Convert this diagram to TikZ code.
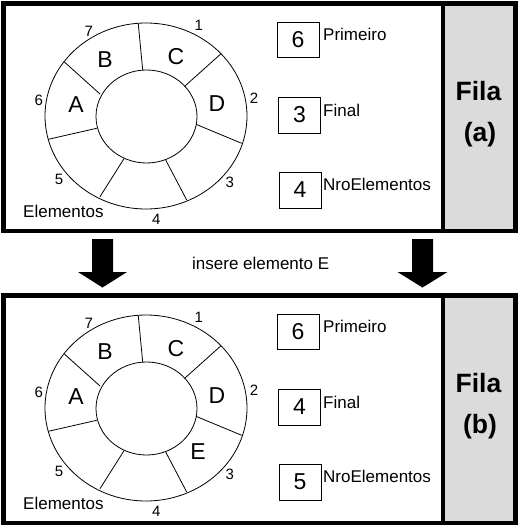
\documentclass[tikz,border=0pt]{standalone}
\usepackage{fontspec}
\setmainfont{Liberation Sans}
\begin{document}
\begin{tikzpicture}[x=1pt,y=-1pt,
  frame/.style={line width=4.5pt},
  ring/.style={line width=0.8pt},
  vbox/.style={draw, line width=0.9pt, minimum width=42pt, minimum height=36pt, inner sep=0pt, font=\fontsize{23}{23}\selectfont},
  lbl/.style={inner sep=0pt, anchor=base west, font=\fontsize{17}{17}\selectfont},
  idx/.style={inner sep=0pt, font=\fontsize{15}{15}\selectfont},
  cell/.style={inner sep=0pt, font=\fontsize{23}{23}\selectfont},
  title/.style={inner sep=0pt, anchor=base, font=\bfseries\fontsize{26.5}{26.5}\selectfont},
  blockarrow/.style={fill=black, draw=none}]
\useasboundingbox (0,0) rectangle (525,530);

\newcommand{\queuepanel}[6]{%
  \draw[frame] (3.5,3.5) rectangle (515.5,231);
  \draw[frame, fill=gray!28] (443,3.5) rectangle (515.5,231);
  \node[title] (fila#1) at (478.5,100) {Fila};
  \node[title] (tag#1) at (480,141) {(#2)};
  % ring
  \draw[ring] (146,116) ellipse [x radius=101pt, y radius=93pt];
  \draw[ring] (146.5,116.5) ellipse [x radius=50.5pt, y radius=46.5pt];
  \draw[ring] (142.7,70) -- (138.3,24);
  \draw[ring] (185,86) -- (220.7,54);
  \draw[ring] (196,124.3) -- (241.7,143.3);
  \draw[ring] (165.7,160) -- (186.7,200);
  \draw[ring] (124,158.7) -- (100,196.7);
  \draw[ring] (96.7,128.3) -- (48.3,139.3);
  \draw[ring] (100,94) -- (64,61.7);
  % cell contents
  \node[cell] (A#1) at (76,105) {A};
  \node[cell] (B#1) at (105,60) {B};
  \node[cell] (C#1) at (176,57) {C};
  \node[cell] (D#1) at (217,104) {D};
  #6
  % indices
  \node[idx] (i1#1) at (198.8,25.3) {1};
  \node[idx] (i2#1) at (254,98) {2};
  \node[idx] (i3#1) at (229.7,182.8) {3};
  \node[idx] (i4#1) at (156.3,219.5) {4};
  \node[idx] (i5#1) at (59,179.5) {5};
  \node[idx] (i6#1) at (38.8,100.5) {6};
  \node[idx] (i7#1) at (88.8,31.3) {7};
  \node[lbl] (el#1) at (23,217) {Elementos};
  % fields
  \node[vbox, minimum height=35pt] (prim#1) at (298,39.5) {6};
  \node[vbox] (fin#1) at (299.5,115) {#3};
  \node[vbox] (nro#1) at (300,190) {#4};
  \node[lbl] (lprim#1) at (323,40.7) {Primeiro};
  \node[lbl] (lfin#1) at (323,116.5) {Final};
  \node[lbl] (lnro#1) at (323,190.5) {NroElementos};
}

\queuepanel{a}{a}{3}{4}{}{}
\begin{scope}[yshift=-292pt]
\queuepanel{b}{b}{4}{5}{}{\node[cell] (Eb) at (198,160) {E};}
\end{scope}

% transition arrows
\fill[blockarrow] (92,239) -- (113,239) -- (113,272) -- (127,272) -- (102.5,287.5) -- (78,272) -- (92,272) -- cycle;
\fill[blockarrow] (412,239) -- (433,239) -- (433,272) -- (447.5,272) -- (422.5,287.5) -- (397.5,272) -- (412,272) -- cycle;
\node[lbl] (ins) at (192,269.5) {insere elemento E};
\end{tikzpicture}
\end{document}
